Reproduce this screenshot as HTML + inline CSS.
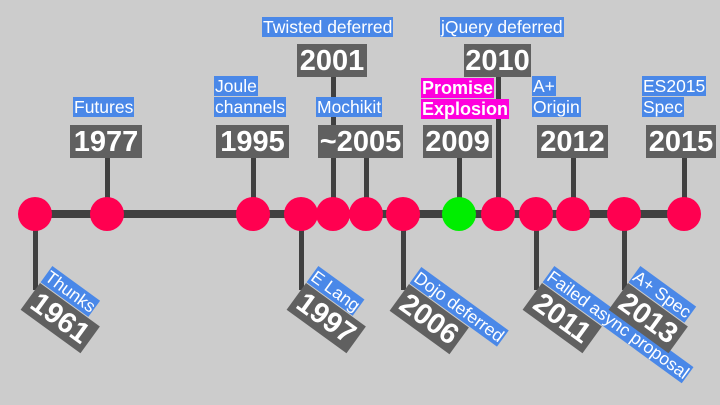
<!DOCTYPE html>
<html><head><meta charset="utf-8"><style>
body{margin:0;}
#c{position:relative;width:720px;height:405px;background:#cccccc;overflow:hidden;font-family:"Liberation Sans",sans-serif;}
.ab{position:absolute;}
.line{background:#404040;}
.stem{position:absolute;width:5px;background:#404040;margin-left:-2px;}
.dot{position:absolute;width:34px;height:34px;border-radius:50%;background:#ff0050;margin-left:-17px;top:197px;}
.yr{position:absolute;height:33px;background:#606060;color:#fff;font-weight:bold;font-size:29px;line-height:34px;text-align:center;white-space:nowrap;}
.lb{position:absolute;color:#fff;font-size:17.5px;line-height:21px;white-space:nowrap;}
.lb span{background:#4a88e8;padding:0 1px;}
.rot{position:absolute;transform-origin:0 0;transform:rotate(36deg);}
.rot .yr{left:0;top:0;width:74px;}
.rot .lb{left:0;top:-21px;}
</style></head><body>
<div id="c">
<div class="ab line" style="left:35px;top:210px;width:650px;height:8px;"></div>

<div class="stem" style="left:107px;top:158px;height:56px"></div>
<div class="stem" style="left:253px;top:158px;height:56px"></div>
<div class="stem" style="left:333px;top:77px;height:137px"></div>
<div class="stem" style="left:366px;top:158px;height:56px"></div>
<div class="stem" style="left:459px;top:158px;height:56px"></div>
<div class="stem" style="left:498px;top:77px;height:137px"></div>
<div class="stem" style="left:573px;top:158px;height:56px"></div>
<div class="stem" style="left:684px;top:158px;height:56px"></div>
<div class="stem" style="left:35px;top:214px;height:76px"></div>
<div class="stem" style="left:301px;top:214px;height:76px"></div>
<div class="stem" style="left:403px;top:214px;height:76px"></div>
<div class="stem" style="left:536px;top:214px;height:76px"></div>
<div class="stem" style="left:624px;top:214px;height:76px"></div>

<div class="dot" style="left:35px"></div>
<div class="dot" style="left:107px"></div>
<div class="dot" style="left:253px"></div>
<div class="dot" style="left:301px"></div>
<div class="dot" style="left:333px"></div>
<div class="dot" style="left:366px"></div>
<div class="dot" style="left:403px"></div>
<div class="dot" style="left:459px;background:#00ee00"></div>
<div class="dot" style="left:498px"></div>
<div class="dot" style="left:536px"></div>
<div class="dot" style="left:573px"></div>
<div class="dot" style="left:624px"></div>
<div class="dot" style="left:684px"></div>

<div class="yr" style="left:70px;top:125px;width:72px">1977</div>
<div class="lb" style="left:73px;top:97px"><span>Futures</span></div>
<div class="yr" style="left:216px;top:125px;width:73px">1995</div>
<div class="lb" style="left:214px;top:76px"><span>Joule</span><br><span>channels</span></div>
<div class="yr" style="left:297px;top:44px;width:70px">2001</div>
<div class="lb" style="left:262px;top:17px"><span>Twisted deferred</span></div>
<div class="yr" style="left:318px;top:125px;width:85px">~2005</div>
<div class="lb" style="left:316px;top:97px"><span>Mochikit</span></div>
<div class="yr" style="left:423px;top:125px;width:69px">2009</div>
<div class="lb" style="left:421px;top:78px;font-weight:bold;font-size:18px;line-height:21px"><span style="background:#ff00dd">Promise</span><br><span style="background:#ff00dd">Explosion</span></div>
<div class="yr" style="left:464px;top:44px;width:67px">2010</div>
<div class="lb" style="left:440px;top:17px"><span>jQuery deferred</span></div>
<div class="yr" style="left:537px;top:125px;width:71px">2012</div>
<div class="lb" style="left:532px;top:76px"><span>A+</span><br><span>Origin</span></div>
<div class="yr" style="left:646px;top:125px;width:70px">2015</div>
<div class="lb" style="left:642px;top:76px"><span>ES2015</span><br><span>Spec</span></div>

<div class="rot" style="left:40px;top:283px"><div class="lb"><span>Thunks</span></div><div class="yr">1961</div></div>
<div class="rot" style="left:306px;top:283px"><div class="lb"><span>E Lang</span></div><div class="yr">1997</div></div>
<div class="rot" style="left:409px;top:284px"><div class="lb"><span>Dojo deferred</span></div><div class="yr">2006</div></div>
<div class="rot" style="left:542px;top:283px"><div class="lb"><span>Failed async proposal</span></div><div class="yr">2011</div></div>
<div class="rot" style="left:628px;top:283px"><div class="lb"><span>A+ Spec</span></div><div class="yr">2013</div></div>
</div>
</body></html>
